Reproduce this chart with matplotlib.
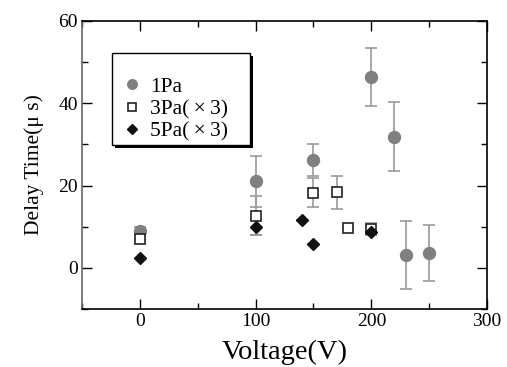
import matplotlib
matplotlib.use("Agg")
import matplotlib.pyplot as plt
from matplotlib.ticker import MultipleLocator
from matplotlib.patches import Rectangle

plt.rcParams['font.family'] = ['Liberation Serif', 'DejaVu Serif']

v1 = [0, 100, 150, 200, 220, 230, 250]
d1 = [8.9, 21.0, 26.2, 46.4, 31.9, 3.1, 3.6]
e1 = [1.0, 6.3, 3.9, 7.0, 8.4, 8.2, 6.8]

v3 = [0, 100, 150, 170, 180, 200]
d3 = [6.9, 12.7, 18.3, 18.4, 9.8, 9.5]
e3 = [0.0, 4.8, 3.5, 4.0, 0.0, 1.5]

v5 = [0, 100, 140, 150, 200]
d5 = [2.5, 9.9, 11.7, 5.8, 8.6]
e5 = [0.0, 2.0, 0.0, 0.0, 0.0]

labels = ['1Pa', '3Pa(\u2009\u00d7\u20093)', '5Pa(\u2009\u00d7\u20093)']

fig = plt.figure(figsize=(5.07, 3.67), dpi=100)
ax = fig.add_axes([0.1617, 0.158, 0.799, 0.785])

ecol = '#999999'
for v, d, e in [(v1, d1, e1), (v3, d3, e3), (v5, d5, e5)]:
    ax.errorbar(v, d, yerr=e, fmt='none', ecolor=ecol, elinewidth=1.2,
                capsize=4.5, capthick=1.2, zorder=1)

h1, = ax.plot(v1, d1, 'o', color='#808080', ms=8.6, mec='#808080', zorder=3)
h3, = ax.plot(v3, d3, 's', mfc='white', mec='#222222', mew=1.2, ms=7, zorder=4)
h5, = ax.plot(v5, d5, 'D', color='#111111', ms=6, zorder=5)

ax.set_xlim(-50, 300)
ax.set_ylim(-10, 60)
ax.xaxis.set_major_locator(MultipleLocator(100))
ax.xaxis.set_minor_locator(MultipleLocator(50))
ax.yaxis.set_major_locator(MultipleLocator(20))
ax.yaxis.set_minor_locator(MultipleLocator(10))
ax.tick_params(which='both', direction='in', top=True, right=True, labelsize=14, width=1, pad=3)
ax.tick_params(which='major', length=7)
ax.tick_params(which='minor', length=4)
for s in ax.spines.values():
    s.set_linewidth(1.2)
ax.spines['left'].set_color('#666666')

ax.set_xlabel('Voltage(V)', fontsize=20.5, labelpad=7)
ax.set_ylabel('Delay Time(\u03bc s)', fontsize=15.5, labelpad=10)

# legend box with drop shadow
bx0, bx1, by0, by1 = 0.0733, 0.415, 0.569, 0.888
ax.add_patch(Rectangle((bx0 + 0.0075, by0 - 0.0105), bx1 - bx0, by1 - by0, transform=ax.transAxes,
                       facecolor='black', edgecolor='none', zorder=6))
ax.add_patch(Rectangle((bx0, by0), bx1 - bx0, by1 - by0, transform=ax.transAxes,
                       facecolor='white', edgecolor='black', linewidth=1.0, zorder=6.5))

leg = ax.legend([h1, h3, h5], labels, loc='upper left', bbox_to_anchor=(0.1067, 0.807),
                fontsize=15.5, frameon=False, borderpad=0, borderaxespad=0,
                handletextpad=0.55, labelspacing=0.12, handlelength=0.6, markerscale=0.8)
leg.set_zorder(7)

fig.savefig('out.png', dpi=100)
